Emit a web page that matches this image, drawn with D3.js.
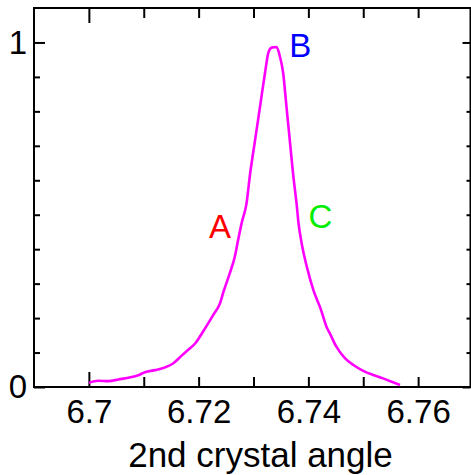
<!DOCTYPE html>
<html>
<head>
<meta charset="utf-8">
<script src="https://cdn.jsdelivr.net/npm/d3@7"></script>
<style>
  body { margin: 0; background: #fff; }
  svg { display: block; font-family: "Liberation Sans", Arial, sans-serif; }
</style>
</head>
<body>
<div id="chart"></div>
<script>
// scan: 2nd crystal angle vs normalised intensity
var angle = [6.7000, 6.7017, 6.7036, 6.7054, 6.7072, 6.7090, 6.7102, 6.7121, 6.7139, 6.7154,
             6.7169, 6.7181, 6.7194, 6.7212, 6.7227, 6.7239, 6.7245, 6.7257, 6.7266, 6.7272,
             6.7279, 6.7287, 6.7294, 6.7303, 6.7312, 6.7321, 6.7327, 6.7333, 6.7342, 6.7348,
             6.7354, 6.7360, 6.7366, 6.7372, 6.7379, 6.7382, 6.7388, 6.7397, 6.7409, 6.7423,
             6.7433, 6.7439, 6.7451, 6.7467, 6.7482, 6.7500, 6.7518, 6.7536, 6.7552, 6.7567];
var intensity = [0.012, 0.018, 0.017, 0.022, 0.027, 0.034, 0.043, 0.049, 0.057, 0.069,
                 0.091, 0.108, 0.127, 0.171, 0.210, 0.243, 0.275, 0.331, 0.379, 0.427,
                 0.480, 0.530, 0.621, 0.718, 0.815, 0.912, 0.970, 0.985, 0.987, 0.960,
                 0.912, 0.815, 0.718, 0.621, 0.524, 0.476, 0.415, 0.350, 0.282, 0.224,
                 0.175, 0.156, 0.117, 0.083, 0.064, 0.047, 0.035, 0.025, 0.015, 0.006];

var xTicks = [6.70, 6.71, 6.72, 6.73, 6.74, 6.75, 6.76];
var xLabels = ["6.7", "", "6.72", "", "6.74", "", "6.76"];
var yTicks = [0, 0.1, 0.2, 0.3, 0.4, 0.5, 0.6, 0.7, 0.8, 0.9, 1];
var yLabels = ["0", "", "", "", "", "", "", "", "", "", "1"];

var marks = ["A", "B", "C"];
var markX = [6.7239, 6.7385, 6.7422];
var markY = [0.433, 0.959, 0.462];
var markColor = ["#ff0000", "#0000ff", "#00ee00"];

var W = 471, H = 475;
var pLeft = 34, pRight = 470.5, pTop = 8, pBottom = 387;

var x = d3.scaleLinear().domain([6.69, 6.77]).range([pLeft, 473]);
var y = d3.scaleLinear().domain([0, 1.1]).range([pBottom, pTop]);

var svg = d3.select("#chart").append("svg")
    .attr("width", W)
    .attr("height", H);

// ticks (drawn first, frame goes over)
function styleAxis(g) {
  g.select(".domain").remove();
  g.selectAll(".tick line").attr("stroke", "#000").attr("stroke-width", 2);
  g.selectAll(".tick text").attr("fill", "#000").attr("font-size", "33px");
}

svg.append("g")
    .attr("transform", "translate(0," + pBottom + ")")
    .call(d3.axisBottom(x).tickValues(xTicks).tickSize(-10).tickPadding(13)
      .tickFormat(function(d, i) { return xLabels[i]; }))
    .call(styleAxis)
    .call(function(g) {
      g.selectAll(".tick line").filter(function(d) { return d === 6.7; }).attr("y2", -15);
    });

svg.append("g")
    .attr("transform", "translate(0," + pTop + ")")
    .call(d3.axisTop(x).tickValues(xTicks).tickSize(-10).tickFormat(""))
    .call(styleAxis)
    .call(function(g) {
      g.selectAll(".tick line").filter(function(d) { return d === 6.7; }).attr("y2", 15);
    });

svg.append("g")
    .attr("transform", "translate(" + pLeft + ",0)")
    .call(d3.axisLeft(y).tickValues(yTicks).tickSize(-6).tickPadding(7)
      .tickFormat(function(d, i) { return yLabels[i]; }))
    .call(styleAxis)
    .call(function(g) {
      g.selectAll(".tick line").filter(function(d) { return d === 0 || d === 1; }).attr("x2", 11);
    });

svg.append("g")
    .attr("transform", "translate(" + pRight + ",0)")
    .call(d3.axisRight(y).tickValues(yTicks).tickSize(-4).tickFormat(""))
    .call(styleAxis)
    .call(function(g) {
      g.selectAll(".tick line").filter(function(d) { return d === 0 || d === 1; }).attr("x2", -8);
    });

// frame
svg.append("rect")
    .attr("x", pLeft).attr("y", pTop)
    .attr("width", pRight - pLeft).attr("height", pBottom - pTop)
    .attr("fill", "none")
    .attr("stroke", "#000")
    .attr("stroke-width", 2);

// curve
var line = d3.line()
    .x(function(d, i) { return x(angle[i]); })
    .y(function(d) { return y(d); })
    .curve(d3.curveMonotoneX);

svg.append("path")
    .datum(intensity)
    .attr("d", line)
    .attr("fill", "none")
    .attr("stroke", "#ff00ff")
    .attr("stroke-width", 2.6)
    .attr("stroke-linejoin", "round");

// point labels
svg.selectAll(".mark")
    .data(marks)
    .enter().append("text")
    .attr("class", "mark")
    .attr("x", function(d, i) { return x(markX[i]); })
    .attr("y", function(d, i) { return y(markY[i]); })
    .attr("text-anchor", "middle")
    .attr("font-size", "33px")
    .attr("fill", function(d, i) { return markColor[i]; })
    .text(function(d) { return d; });

// axis title
svg.append("text")
    .attr("x", (pLeft + 473) / 2 + 7)
    .attr("y", 467)
    .attr("text-anchor", "middle")
    .attr("font-size", "35px")
    .attr("fill", "#000")
    .text("2nd crystal angle");
</script>
</body>
</html>
